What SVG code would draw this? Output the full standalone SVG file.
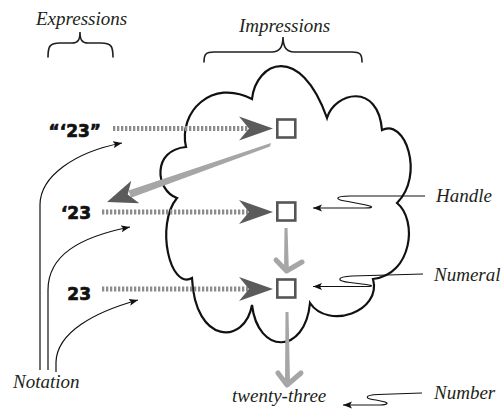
<svg xmlns="http://www.w3.org/2000/svg" width="504" height="417" viewBox="0 0 504 417">
<style>
.lbl{font-family:"Liberation Serif","Times New Roman",serif;font-style:italic;font-size:19px;fill:#231f20}
.expr{font-family:"DejaVu Sans","Liberation Sans",sans-serif;font-weight:bold;font-size:17px;fill:#111;stroke:#111;stroke-width:0.7;text-anchor:end}
.brace{fill:none;stroke:#231f20;stroke-width:1.6;stroke-linecap:round}
.cloud{fill:#fff;stroke:#111;stroke-width:2.2}
.sq{fill:#fff;stroke:#555;stroke-width:2.6}
.dots{fill:none;stroke:#8c8c8c;stroke-width:5;stroke-dasharray:2.3 1.7}
.head{fill:#5b5b5b}
.thin{fill:none;stroke:#111;stroke-width:1.2;marker-end:url(#ah)}
.brush{fill:#a6a6a6}
.chev{fill:none;stroke:#a6a6a6;stroke-width:5;stroke-linecap:round;stroke-linejoin:round}
</style>
<defs>
<marker id="ah" markerUnits="userSpaceOnUse" markerWidth="10" markerHeight="8" refX="9" refY="4" orient="auto"><path d="M0,0.5 L9,4 L0,7.5 L2,4 z" fill="#111"/></marker>
<path id="stealth" d="M0,0 L-34,-12 L-24,0 L-34,12 Z"/>
</defs>

<g id="cloud"><path class="cloud" d="M186,147 C178,112 212,78 252,99 C256,62 300,42 327,118 C335,92 378,82 382,130 C405,118 425,175 397,203 C418,220 412,275 373,279 C382,312 328,330 310,303 C305,355 258,355 252,305 C245,345 195,345 192,278 C170,290 155,225 177,198 C155,190 152,150 186,147 Z"/></g>

<g id="expressions-label"><text class="lbl" x="36" y="25">Expressions</text><path class="brace" d="M48,57 C48,46 50,43 60,43 L72,43 C78,43 80,40 80,32 C80,40 82,43 88,43 L101,43 C111,43 113,46 113,57"/></g>
<g id="impressions-label"><text class="lbl" x="239" y="32">Impressions</text><path class="brace" d="M204,62 C204,54 206,52 214,52 L272,52 C280,52 283,47 283,37 C283,47 286,52 294,52 L352,52 C360,52 362,54 362,62"/></g>

<g id="connectors">
<path class="dots" d="M113,128.5 H250"/>
<path class="dots" d="M102,212 H250"/>
<path class="dots" d="M102,289 H250"/>
<use href="#stealth" class="head" transform="translate(273,128.5)"/>
<use href="#stealth" class="head" transform="translate(273,212)"/>
<use href="#stealth" class="head" transform="translate(273,289)"/>
<polygon class="brush" points="271,143 270,146.5 131,197.8 128.5,190.5"/>
<polygon class="head" points="107,202 131.3,180.7 127.7,194.6 139.3,203.3"/>
<polygon class="brush" points="284.5,228 287.5,228 288.8,268 284,268"/>
<path class="chev" d="M276,260 L286.5,271 L302,262"/>
<polygon class="brush" points="285.5,312 288.5,312 290,382 285,382"/>
<path class="chev" d="M278,373 L287,385 L301,373"/>
<path class="thin" d="M425,196 L350,196 C334,196 334,200 348,201.5 L366,205 C375,207 372,208 364,208 L313,208"/>
<path class="thin" d="M423,274 L352,276 C336,277 336,281 350,282.5 L366,284.5 C375,286 372,286.5 364,286.5 L313,286.5"/>
<path class="thin" d="M422,393 L378,394.5 C364,395 364,399 376,400 L383,401.5 C390,403 387,405 380,405 L343,405"/>
<path class="thin" d="M40,370 L40,205 C40,176 75,152 122,143"/>
<path class="thin" d="M48,370 L48,290 C48,255 80,237 130,227"/>
<path class="thin" d="M56,372 L56,362 C57,332 95,312 138,300"/>
</g>

<g id="expr-quote-quote"><text class="expr" x="101" y="137">“‘23”</text></g>
<g id="expr-quote"><text class="expr" x="91" y="219">‘23</text></g>
<g id="expr-plain"><text class="expr" x="91" y="300">23</text></g>

<g id="impression-1"><rect class="sq" x="277.3" y="119.5" width="18" height="18"/></g>
<g id="impression-2"><rect class="sq" x="277.3" y="202.5" width="18" height="18"/></g>
<g id="impression-3"><rect class="sq" x="277.3" y="279.5" width="18" height="18"/></g>

<g id="handle-label"><text class="lbl" x="436" y="202">Handle</text></g>
<g id="numeral-label"><text class="lbl" x="434" y="281">Numeral</text></g>
<g id="number-label"><text class="lbl" x="434" y="399">Number</text></g>
<g id="notation-label"><text class="lbl" x="13" y="388">Notation</text></g>
<g id="twenty-three"><text class="lbl" x="232" y="402">twenty-three</text></g>
</svg>
